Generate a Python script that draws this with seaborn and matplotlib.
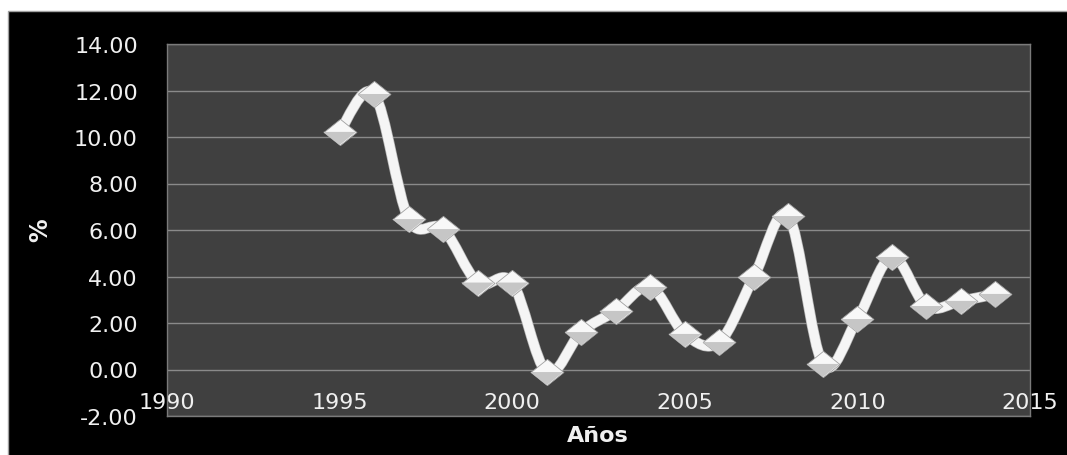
import numpy as np
import matplotlib
matplotlib.use("Agg")
import matplotlib.pyplot as plt
from matplotlib.path import Path
from matplotlib.patches import PathPatch, Rectangle
import seaborn as sns

# data
years = [1995, 1996, 1997, 1998, 1999, 2000, 2001, 2002, 2003, 2004,
         2005, 2006, 2007, 2008, 2009, 2010, 2011, 2012, 2013, 2014]
values = [10.22, 11.85, 6.47, 6.04, 3.74, 3.74, -0.11, 1.61, 2.52, 3.55,
          1.53, 1.18, 3.98, 6.60, 0.24, 2.17, 4.84, 2.73, 2.95, 3.25]
xticks = [1990, 1995, 2000, 2005, 2010, 2015]
yticks = [-2, 0, 2, 4, 6, 8, 10, 12, 14]

sns.set_theme(style="dark", rc={"axes.facecolor": "#404040",
                                "figure.facecolor": "white"})
plt.rcParams["font.family"] = ["DejaVu Sans"]

W, H = 1067, 456
fig = plt.figure(figsize=(W / 100, H / 100), dpi=100)

# black chart background with white strip top/left
fig.patches.append(Rectangle((8 / W, -0.05), 1, (H - 12) / H + 0.05, transform=fig.transFigure,
                             facecolor="black", edgecolor="#a0a0a0", lw=1, zorder=-5))

ax = fig.add_axes([167 / W, 1 - 417 / H, (1030 - 167) / W, (417 - 45) / H])
ax.set_facecolor("#404040")
ax.set_xlim(1990, 2015)
ax.set_ylim(-2, 14)
ax.set_yticks(yticks)
ax.set_yticklabels(["%.2f" % v for v in yticks])
ax.set_xticks(xticks)
ax.tick_params(axis="x", bottom=False, labelbottom=False)
ax.tick_params(axis="y", length=0, pad=21, labelsize=16, labelcolor="#f0f0f0")
ax.grid(axis="y", color="#8a8a8a", lw=1)
ax.grid(axis="x", visible=False)
for s in ax.spines.values():
    s.set_visible(True)
    s.set_color("#7a7a7a")
    s.set_linewidth(1)

# x axis crosses the value axis at 0 (like excel)
sec = ax.secondary_xaxis((0 - (-2)) / 16.0)
sec.set_xticks(xticks)
sec.tick_params(length=0, pad=16, labelsize=16, labelcolor="#f0f0f0")
sec.spines["bottom"].set_visible(False)

# smoothed line (bezier through the data points)
x = np.array(years, dtype=float)
y = np.array(values, dtype=float)
pts = np.column_stack([x, y])
n = len(pts)
verts = [pts[0]]
codes = [Path.MOVETO]
for i in range(n - 1):
    p0 = pts[i - 1] if i > 0 else pts[i]
    p1 = pts[i]
    p2 = pts[i + 1]
    p3 = pts[i + 2] if i + 2 < n else pts[i + 1]
    c1 = p1 + (p2 - p0) / 6.0
    c2 = p2 - (p3 - p1) / 6.0
    verts += [c1, c2, p2]
    codes += [Path.CURVE4] * 3
path = Path(verts, codes)
ax.add_patch(PathPatch(path, facecolor="none", edgecolor="#b4b4b4", lw=7.8,
                       capstyle="round", joinstyle="round", zorder=3))
ax.add_patch(PathPatch(path, facecolor="none", edgecolor="#f5f5f5", lw=6.8,
                       capstyle="round", joinstyle="round", zorder=3))

# diamond markers, light top and shaded bottom
diamond = [(-1, 0), (0, 0.8), (1, 0), (0, -0.8), (-1, 0)]
lower = [(-1, 0), (1, 0), (0, -0.8), (-1, 0)]
sns.scatterplot(x=years, y=values, marker=diamond, s=560, color="#f8f8f8",
                edgecolor="#a0a0a0", linewidth=0.6, ax=ax, zorder=4)
sns.scatterplot(x=years, y=values, marker=lower, s=560, color="#c6c6c6",
                edgecolor="none", linewidth=0, ax=ax, zorder=5)
ax.set_xlabel("")
ax.set_ylabel("")

fig.text(40 / W, 1 - 230 / H, "%", rotation=90, ha="center", va="center",
         fontsize=17, fontweight="bold", color="#f0f0f0")
fig.text(598 / W, 1 - 436 / H, "Años", ha="center", va="center",
         fontsize=16, fontweight="bold", color="#f0f0f0")

fig.savefig("out.png", dpi=100, facecolor="white")
